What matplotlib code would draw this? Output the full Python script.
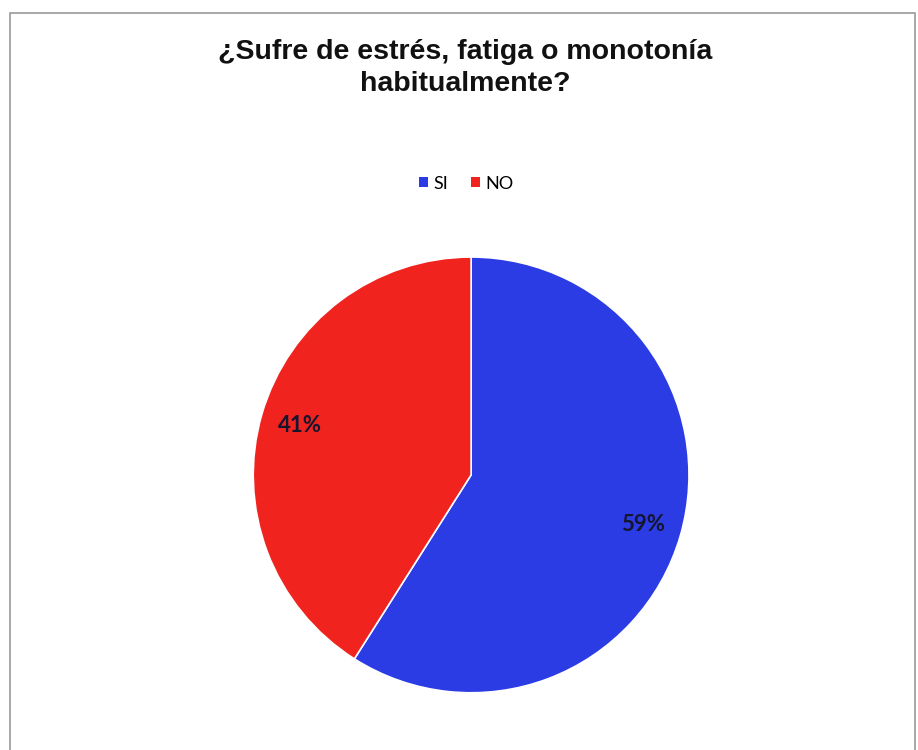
import matplotlib
matplotlib.use("Agg")
import matplotlib.pyplot as plt
from matplotlib.patches import Rectangle

categories = ["SI", "NO"]
values = [59, 41]
colors = ["#2B3CE4", "#F0231F"]

fig = plt.figure(figsize=(9.18, 7.5), dpi=100)
fig.patch.set_facecolor("white")

# outer chart frame
fig.patches.append(Rectangle((0.011, -0.01), 0.986, 0.993, transform=fig.transFigure,
                             fill=False, edgecolor="#9a9a9a", linewidth=1.2))

fig.text(0.507, 0.909, "¿Sufre de estrés, fatiga o monotonía\nhabitualmente?",
         ha="center", va="center", fontsize=20.5, fontweight="bold",
         family="Liberation Sans", linespacing=1.3, color="#111111")

ax = fig.add_axes([0.2757, 0.0763, 0.475, 0.581])
wedges, texts, autotexts = ax.pie(
    values, colors=colors, startangle=90, counterclock=False,
    autopct=lambda p: f"{p:.0f}%", pctdistance=0.82,
    wedgeprops=dict(edgecolor="white", linewidth=1.2),
    textprops=dict(fontsize=16, fontweight="bold", family="Lato", color="#151530"))
ax.set_xlim(-1, 1)
ax.set_ylim(-1, 1)
ax.set_aspect("equal")

leg = fig.legend(wedges, categories, loc="center", bbox_to_anchor=(0.508, 0.755),
                 ncol=2, frameon=False, handlelength=0.5, handleheight=0.5,
                 handletextpad=0.3, columnspacing=1.3, prop=dict(family="Lato", size=13))
for h in leg.legend_handles:
    h.set_edgecolor("none")

fig.savefig("out.png", dpi=100, facecolor="white")
